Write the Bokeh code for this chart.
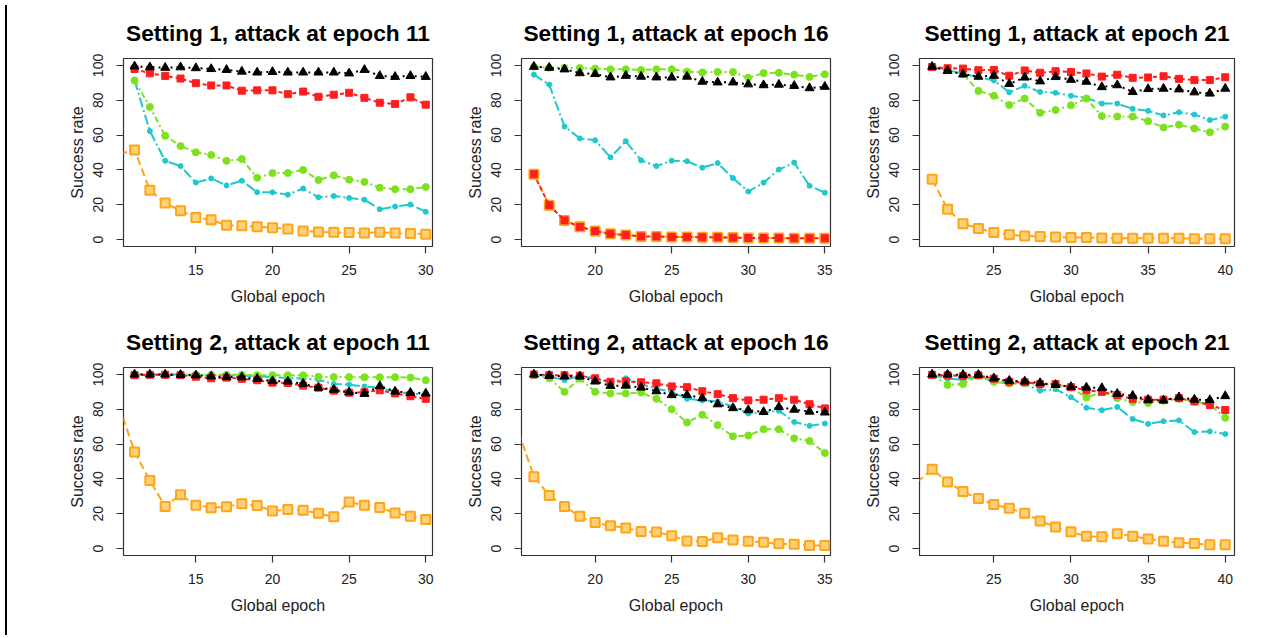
from bokeh.plotting import figure
from bokeh.models import FixedTicker, Range1d, Div
from bokeh.layouts import row, column
from bokeh.embed import file_html
from bokeh.resources import INLINE

FONT = "Liberation Sans"

# ---------------- data ----------------
# Setting 1, attack at epoch 11
s1e11_epochs = list(range(11, 31))
s1e11_black = [99.5, 99, 98.7, 99, 98.5, 98, 97.5, 96.5, 96, 96.3, 96, 96, 96, 96, 95.5, 97.5, 94, 93.5, 94, 93.5]
s1e11_red = [98, 95.5, 94, 92.5, 89.8, 88.5, 88.5, 85.5, 85.7, 85.7, 83.5, 85, 82, 83.2, 84.3, 81.4, 78.6, 77.9, 81.7, 77.5]
s1e11_green = [91.4, 76.2, 59.6, 53.7, 50.1, 48.6, 45.2, 46.3, 35.5, 38.2, 38.2, 40, 34.2, 36.9, 34.4, 33.1, 29.8, 28.9, 28.9, 30.2]
s1e11_cyan = [91.4, 62.3, 45.2, 42.2, 32.7, 35.1, 31.1, 33.8, 27.2, 27.1, 25.8, 29.3, 24.3, 25, 23.9, 22.9, 17.4, 19, 20.1, 15.9]
s1e11_orange_epochs = list(range(10, 31))
s1e11_orange = [49, 51.5, 28.3, 21, 16.5, 12.6, 11.3, 8.2, 7.9, 7.3, 6.8, 6, 4.9, 4.4, 4.2, 4, 3.7, 4.2, 3.7, 3.5, 3.1]

# Setting 1, attack at epoch 16
s1e16_epochs = list(range(16, 36))
s1e16_green = [99.3, 98.7, 98.7, 98.5, 98.2, 97.8, 97.8, 97.4, 97.8, 97.8, 96.5, 96, 96.3, 96.2, 92.9, 95.6, 95.8, 94.7, 93.4, 94.9]
s1e16_black = [99.3, 98.7, 97.8, 95.6, 95.1, 93.2, 94.1, 93.6, 93.2, 93.1, 93.6, 90.7, 90.3, 90.3, 89.2, 88.7, 89, 88.3, 87, 87.8]
s1e16_cyan = [94.7, 89, 64.9, 58.1, 57, 47.2, 56.5, 45.5, 42.2, 45.3, 45, 41.3, 43.9, 35.3, 27.6, 32.7, 40.2, 44.2, 30.9, 26.9]
s1e16_red = [37.5, 19.7, 11, 7.3, 4.9, 3.3, 2.6, 1.8, 1.8, 1.5, 1.5, 1.3, 1.3, 1.1, 0.9, 0.9, 0.9, 0.7, 0.7, 0.7]
s1e16_orange_epochs = list(range(16, 36))
s1e16_orange = [37.5, 19.7, 11, 7.3, 4.9, 3.3, 2.6, 1.8, 1.8, 1.5, 1.5, 1.3, 1.3, 1.1, 0.9, 0.9, 0.9, 0.7, 0.7, 0.7]

# Setting 1, attack at epoch 21
s1e21_epochs = list(range(21, 41))
s1e21_red = [99.1, 98.4, 98.2, 97.3, 97.4, 94.1, 97.1, 95.8, 96.7, 96.2, 95.4, 93.6, 94.7, 92.9, 93.1, 93.8, 92.3, 91.6, 91.6, 93.2]
s1e21_black = [99.3, 96.9, 94.9, 93.6, 94.1, 89.4, 93.1, 90.9, 93.4, 91.8, 90.7, 87.6, 88.7, 84.8, 86.5, 86.7, 86.3, 84.6, 83.9, 86.7]
s1e21_cyan = [99.3, 97.3, 95.4, 93.2, 91.4, 84.6, 88.3, 84.8, 84.3, 82.6, 81.4, 78.1, 78.1, 75.1, 73.9, 71.3, 73.1, 71.8, 68.6, 70.6]
s1e21_green = [99.3, 97.5, 95, 85.4, 82.6, 77.3, 81, 72.8, 74.4, 77.1, 81, 70.9, 70.7, 70.7, 68, 64.4, 66, 63.8, 61.6, 64.9]
s1e21_orange_epochs = list(range(21, 41))
s1e21_orange = [34.6, 17.4, 9, 6.4, 4, 2.7, 2, 1.8, 1.5, 1.1, 1.1, 0.9, 0.7, 0.7, 0.7, 0.7, 0.7, 0.5, 0.5, 0.5]

# Setting 2, attack at epoch 11
s2e11_epochs = list(range(11, 31))
s2e11_black = [100, 100, 100, 99.8, 99.5, 98.9, 98.5, 98.4, 97.5, 96.2, 96, 94.7, 92.4, 91.3, 89.8, 88.9, 93.3, 90.2, 89.5, 89.1]
s2e11_red = [99.6, 99.8, 99.8, 99.6, 98.7, 97.8, 98.2, 97.5, 96.7, 95.3, 95.1, 93.6, 92.4, 90.7, 89.5, 89.8, 90.9, 89.1, 87.5, 86]
s2e11_green = [100, 100, 100, 100, 99.8, 99.8, 99.8, 99.8, 99.6, 99.6, 99.6, 99.5, 98.7, 98.5, 98.5, 98.4, 98.4, 98.4, 98.2, 96.7]
s2e11_cyan = [100, 100, 100, 100, 99.8, 99.6, 99.5, 99.3, 99, 98.5, 98, 97.6, 97, 94.5, 94.2, 93.1, 92.4, 90, 89.1, 88.2]
s2e11_orange_epochs = list(range(10, 31))
s2e11_orange = [82, 55.5, 39.1, 24.2, 30.9, 24.9, 23.5, 24, 25.8, 24.7, 21.6, 22.4, 22, 20.2, 18.2, 26.7, 24.9, 23.6, 20.4, 18.5, 16.7]

# Setting 2, attack at epoch 16
s2e16_epochs = list(range(16, 36))
s2e16_red = [100, 99.6, 99.5, 99.3, 97.8, 95.8, 96, 95.5, 94.9, 93.1, 92.7, 90.4, 88.7, 86.4, 85.1, 85.5, 86.4, 85.5, 82.9, 80.5]
s2e16_black = [100, 99.3, 98.9, 98.9, 96, 93.5, 93.6, 92.5, 90.4, 88.2, 88.2, 86.4, 82.9, 80.7, 79.5, 78.5, 81.3, 79.8, 78.7, 78.2]
s2e16_cyan = [100, 99, 96.7, 99.3, 97.5, 95.5, 97.8, 94.5, 91.8, 90, 86, 85.1, 84.5, 81.5, 77.6, 78.2, 79.1, 72.7, 70.5, 71.8]
s2e16_green = [99.6, 97.8, 90, 97.6, 90, 89.1, 89.1, 89.6, 86, 80, 72.4, 76.9, 70.9, 64.5, 64.9, 68.5, 68.5, 63.3, 61.8, 54.9]
s2e16_orange_epochs = list(range(15, 36))
s2e16_orange = [67, 41.3, 30.5, 24.2, 18.5, 14.9, 13.1, 11.8, 9.8, 9.5, 7.3, 4.4, 4, 6.2, 4.9, 4.2, 3.6, 2.7, 2.5, 1.8, 1.8]

# Setting 2, attack at epoch 21
s2e21_epochs = list(range(21, 41))
s2e21_black = [100, 100, 99.8, 99.8, 97.8, 96.4, 96, 95.1, 94, 92.9, 92.5, 92.2, 88.9, 87.8, 85.5, 85.1, 86.9, 85.6, 85.3, 87.6]
s2e21_red = [99.8, 99.5, 99.1, 99.5, 97.6, 95.8, 95.5, 94.5, 94.5, 92.7, 90.9, 90, 88.2, 86, 85.5, 85.5, 86.4, 84.5, 82.4, 79.6]
s2e21_green = [99.8, 94, 94.5, 99.5, 95.8, 94.7, 95.1, 94.5, 93.8, 92.5, 86.7, 90, 86.4, 84.2, 83.6, 84.9, 86, 84.5, 82.7, 75.1]
s2e21_cyan = [99.8, 97.6, 96.9, 99.3, 95.5, 94.9, 94.7, 90.7, 91.5, 86.9, 80.9, 79.5, 81.3, 74.4, 71.6, 73.1, 73.6, 66.9, 67.3, 65.8]
s2e21_orange_epochs = list(range(20, 41))
s2e21_orange = [38, 45.5, 38.2, 32.7, 28.7, 25.3, 23.1, 20.2, 15.8, 12.4, 9.6, 7.1, 6.7, 8.5, 7.1, 5.5, 4.2, 3.3, 2.9, 2.2, 2.2]

titles = ["Setting 1, attack at epoch 11", "Setting 1, attack at epoch 16", "Setting 1, attack at epoch 21",
          "Setting 2, attack at epoch 11", "Setting 2, attack at epoch 16", "Setting 2, attack at epoch 21"]
x_ticks = [[15, 20, 25, 30], [20, 25, 30, 35], [25, 30, 35, 40]]
y_ticks = [0, 20, 40, 60, 80, 100]
x_label = "Global epoch"
y_label = "Success rate"

panels = [
    dict(ep=s1e11_epochs, black=s1e11_black, red=s1e11_red, green=s1e11_green, cyan=s1e11_cyan,
         oep=s1e11_orange_epochs, orange=s1e11_orange),
    dict(ep=s1e16_epochs, black=s1e16_black, red=s1e16_red, green=s1e16_green, cyan=s1e16_cyan,
         oep=s1e16_orange_epochs, orange=s1e16_orange),
    dict(ep=s1e21_epochs, black=s1e21_black, red=s1e21_red, green=s1e21_green, cyan=s1e21_cyan,
         oep=s1e21_orange_epochs, orange=s1e21_orange),
    dict(ep=s2e11_epochs, black=s2e11_black, red=s2e11_red, green=s2e11_green, cyan=s2e11_cyan,
         oep=s2e11_orange_epochs, orange=s2e11_orange),
    dict(ep=s2e16_epochs, black=s2e16_black, red=s2e16_red, green=s2e16_green, cyan=s2e16_cyan,
         oep=s2e16_orange_epochs, orange=s2e16_orange),
    dict(ep=s2e21_epochs, black=s2e21_black, red=s2e21_red, green=s2e21_green, cyan=s2e21_cyan,
         oep=s2e21_orange_epochs, orange=s2e21_orange),
]

# ---------------- styling ----------------
x_ranges = [(10.28, 30.44), (15.19, 35.37), (20.18, 40.6)]
frame_w = [309, 309, 315]
frame_h = 194
border_l = [110, 71, 69]
border_r = [18, 20, 30]
row_top = [58, 60]
row_bottom = [55, 55]

C_BLACK = "#000000"
C_RED = "#FF1E1E"
C_GREEN = "#7CE21E"
C_CYAN = "#1EC8CC"
C_ORANGE = "#FFA51A"


def make_panel(i):
    d = panels[i]
    col = i % 3
    r = i // 3
    w = border_l[col] + frame_w[col] + border_r[col]
    h = row_top[r] + frame_h + row_bottom[r]
    p = figure(width=w, height=h,
               min_border_left=border_l[col], min_border_right=border_r[col],
               min_border_top=row_top[r], min_border_bottom=row_bottom[r],
               x_range=Range1d(*x_ranges[col]), y_range=Range1d(-4, 104),
               output_backend="svg", toolbar_location=None, tools="",
               title=titles[i])
    p.title.text_font = FONT
    p.title.text_font_size = "22.7px"
    p.title.text_font_style = "bold"
    p.title.align = "center"
    p.title.text_color = "#000000"
    p.title.standoff = 25

    p.xgrid.visible = False
    p.ygrid.visible = False
    p.outline_line_color = "#333333"
    p.outline_line_width = 1.2
    p.background_fill_color = "white"
    p.border_fill_color = "white"

    for ax in (p.xaxis[0], p.yaxis[0]):
        ax.axis_line_color = None
        ax.major_tick_line_color = "#333333"
        ax.major_tick_line_width = 1.2
        ax.major_tick_out = 7
        ax.major_tick_in = 0
        ax.minor_tick_line_color = None
        ax.major_label_text_font = FONT
        ax.major_label_text_font_size = "14px"
        ax.major_label_text_color = "#222222"
        ax.axis_label_text_font = FONT
        ax.axis_label_text_font_size = "16px"
        ax.axis_label_text_font_style = "normal"
        ax.axis_label_text_color = "#222222"
    p.xaxis.ticker = FixedTicker(ticks=x_ticks[col])
    p.yaxis.ticker = FixedTicker(ticks=y_ticks)
    p.yaxis.major_label_orientation = "vertical"
    p.xaxis.axis_label = x_label
    p.yaxis.axis_label = y_label
    p.xaxis.major_label_standoff = 11
    p.yaxis.major_label_standoff = 13
    p.xaxis.axis_label_standoff = 10
    p.yaxis.axis_label_standoff = 5

    # orange series (line includes pre-attack point, markers only inside range)
    p.line(d["oep"], d["orange"], line_color=C_ORANGE, line_width=2, line_dash="8 4")
    ox = [e for e in d["oep"] if e >= d["ep"][0]]
    oy = [v for e, v in zip(d["oep"], d["orange"]) if e >= d["ep"][0]]
    p.scatter(ox, oy, marker="square", size=9, fill_color="#FFD27A",
              line_color=C_ORANGE, line_width=2)

    # cyan
    p.line(d["ep"], d["cyan"], line_color=C_CYAN, line_width=2, line_dash="10 3 2 3")
    p.scatter(d["ep"], d["cyan"], marker="circle", size=5, fill_color=C_CYAN, line_color=C_CYAN)
    # green
    p.line(d["ep"], d["green"], line_color=C_GREEN, line_width=2, line_dash="6 3 2 3")
    p.scatter(d["ep"], d["green"], marker="circle", size=7, fill_color=C_GREEN, line_color=C_GREEN)
    # red
    p.line(d["ep"], d["red"], line_color=C_RED, line_width=2, line_dash="4 3")
    p.scatter(d["ep"], d["red"], marker="square", size=7, fill_color=C_RED, line_color=C_RED)
    # black
    p.line(d["ep"], d["black"], line_color=C_BLACK, line_width=2, line_dash="2 4")
    p.scatter(d["ep"], d["black"], marker="triangle", size=9, fill_color=C_BLACK, line_color=C_BLACK)
    return p


figs = [make_panel(i) for i in range(6)]
grid = column(row(*figs[:3]), row(*figs[3:]))
edge = Div(text="", width=3, height=630, styles={"border-left": "2px solid #000000"})
layout = row(edge, grid)

open("out.html", "w").write(file_html(layout, INLINE))
